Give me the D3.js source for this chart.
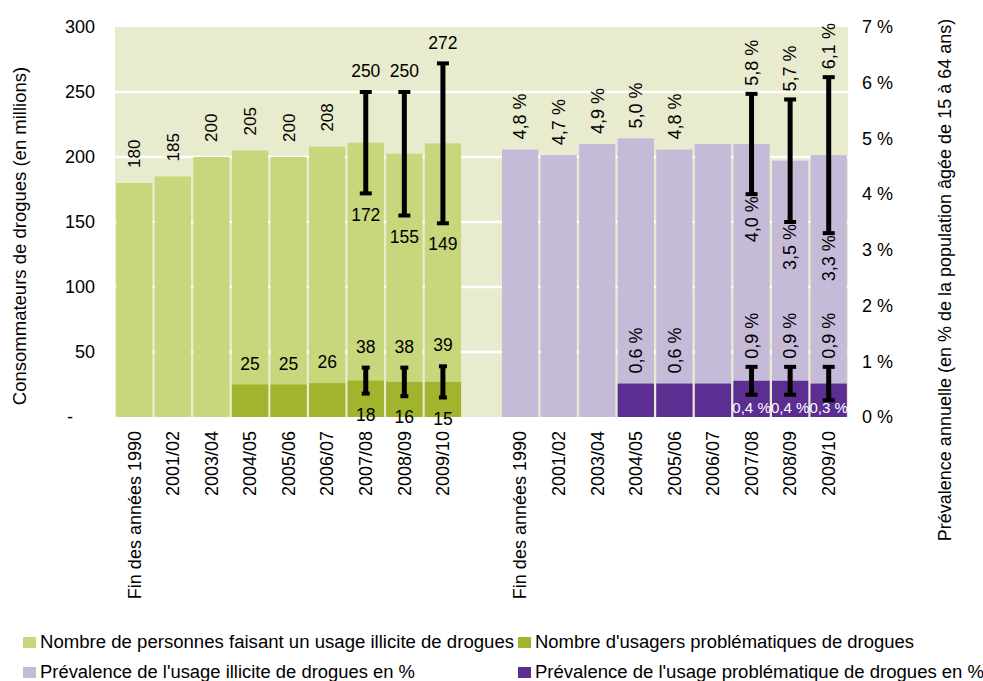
<!DOCTYPE html>
<html>
<head>
<meta charset="utf-8">
<script src="https://cdn.jsdelivr.net/npm/d3@7"></script>
<style>
  body { margin: 0; background: #fff; }
  svg { display: block; font-family: "Liberation Sans", Arial, sans-serif; }
</style>
</head>
<body>
<div id="chart"></div>
<script>
// categories (same on both halves)
var categories = ["Fin des années 1990", "2001/02", "2003/04", "2004/05", "2005/06", "2006/07", "2007/08", "2008/09", "2009/10"];

// left half, millions of users
var users = [180, 185, 200, 205, 200, 208, 211, 202.5, 210.5];
var usersLabel = [180, 185, 200, 205, 200, 208, null, null, null];
var usersLow = [null, null, null, null, null, null, 172, 155, 149];
var usersHigh = [null, null, null, null, null, null, 250, 250, 272];
var problemUsers = [0, 0, 0, 25, 25, 26, 28, 27, 27];
var problemUsersLabel = [null, null, null, 25, 25, 26, null, null, null];
var problemUsersLow = [null, null, null, null, null, null, 18, 16, 15];
var problemUsersHigh = [null, null, null, null, null, null, 38, 38, 39];

// right half, annual prevalence in %
var prevalence = [4.8, 4.7, 4.9, 5.0, 4.8, 4.9, 4.9, 4.6, 4.7];
var prevalenceLabel = [4.8, 4.7, 4.9, 5.0, 4.8, null, null, null, null];
var prevalenceLow = [null, null, null, null, null, null, 4.0, 3.5, 3.3];
var prevalenceHigh = [null, null, null, null, null, null, 5.8, 5.7, 6.1];
var problemPrev = [0, 0, 0, 0.6, 0.6, 0.6, 0.65, 0.65, 0.6];
var problemPrevLabel = [null, null, null, 0.6, 0.6, null, null, null, null];
var problemPrevLow = [null, null, null, null, null, null, 0.4, 0.4, 0.3];
var problemPrevHigh = [null, null, null, null, null, null, 0.9, 0.9, 0.9];

var leftTicks = [0, 50, 100, 150, 200, 250, 300];
var rightTicks = [0, 1, 2, 3, 4, 5, 6, 7];

var legendItems = [
  "Nombre de personnes faisant un usage illicite de drogues",
  "Nombre d'usagers problématiques de drogues",
  "Prévalence de l'usage illicite de drogues en  %",
  "Prévalence de l'usage problématique de drogues en %"
];

var colors = {
  bg: "#e8ebcd",
  lightGreen: "#c8d77c",
  darkGreen: "#a2b42d",
  lightPurple: "#c6bad9",
  darkPurple: "#5c2e91"
};

var W = 983, H = 681;
var plot = { left: 115, right: 848, top: 27, bottom: 417 };

var svg = d3.select("#chart").append("svg")
  .attr("width", W)
  .attr("height", H);

// 9 left slots, one empty slot, 9 right slots
var slots = d3.range(19);
var x = d3.scaleBand()
  .domain(slots)
  .range([plot.left, plot.right])
  .paddingInner(0.06)
  .paddingOuter(0.03);

var yL = d3.scaleLinear().domain([0, 300]).range([plot.bottom, plot.top]);
var yR = d3.scaleLinear().domain([0, 7]).range([plot.bottom, plot.top]);

var fmtPct = function (v) { return v.toFixed(1).replace(".", ",") + " %"; };
var fmtNum = d3.format("d");

// background + grid
svg.append("rect")
  .attr("x", plot.left).attr("y", plot.top)
  .attr("width", plot.right - plot.left).attr("height", plot.bottom - plot.top)
  .attr("fill", colors.bg);

svg.append("g").selectAll("line")
  .data(leftTicks.filter(function (t) { return t > 0 && t < 300; }))
  .enter().append("line")
  .attr("x1", plot.left).attr("x2", plot.right)
  .attr("y1", function (d) { return yL(d); })
  .attr("y2", function (d) { return yL(d); })
  .attr("stroke", "#fff")
  .attr("stroke-width", 2.5);

function half(offset, y, big, small, colBig, colSmall) {
  var g = svg.append("g");
  g.selectAll("rect.big").data(big).enter().append("rect")
    .attr("class", "big")
    .attr("x", function (d, i) { return x(i + offset); })
    .attr("width", x.bandwidth())
    .attr("y", function (d) { return y(d); })
    .attr("height", function (d) { return y(0) - y(d); })
    .attr("fill", colBig);
  g.selectAll("rect.small").data(small).enter().append("rect")
    .attr("class", "small")
    .attr("x", function (d, i) { return x(i + offset); })
    .attr("width", x.bandwidth())
    .attr("y", function (d) { return y(d); })
    .attr("height", function (d) { return y(0) - y(d); })
    .attr("fill", colSmall);
}

half(0, yL, users, problemUsers, colors.lightGreen, colors.darkGreen);
half(10, yR, prevalence, problemPrev, colors.lightPurple, colors.darkPurple);

function cx(i, offset) { return x(i + offset) + x.bandwidth() / 2; }

function errorBars(offset, y, low, high, capW) {
  var g = svg.append("g").attr("stroke", "#000");
  low.forEach(function (lo, i) {
    if (lo == null) return;
    var c = cx(i, offset);
    g.append("line")
      .attr("x1", c).attr("x2", c)
      .attr("y1", y(high[i])).attr("y2", y(lo))
      .attr("stroke-width", 5);
    [lo, high[i]].forEach(function (v) {
      g.append("line")
        .attr("x1", c - capW / 2).attr("x2", c + capW / 2)
        .attr("y1", y(v)).attr("y2", y(v))
        .attr("stroke-width", 4);
    });
  });
}

errorBars(0, yL, usersLow, usersHigh, 12);
errorBars(0, yL, problemUsersLow, problemUsersHigh, 8);
errorBars(10, yR, prevalenceLow, prevalenceHigh, 12);
errorBars(10, yR, problemPrevLow, problemPrevHigh, 12);

// labels
var labels = svg.append("g").attr("font-size", 17.5).attr("fill", "#000");

// horizontal labels
function hLabels(offset, y, vals, off, fmt) {
  vals.forEach(function (v, i) {
    if (v == null) return;
    labels.append("text")
      .attr("x", cx(i, offset))
      .attr("y", y(v) + off)
      .attr("dy", "0.35em")
      .attr("text-anchor", "middle")
      .text(fmt(v));
  });
}

// rotated labels, above (anchor start) or below (anchor end)
function vLabels(offset, y, vals, off, anchor, fmt, size) {
  vals.forEach(function (v, i) {
    if (v == null) return;
    labels.append("text")
      .attr("transform", "translate(" + cx(i, offset) + "," + (y(v) + off) + ") rotate(-90)")
      .attr("dy", "0.35em")
      .attr("text-anchor", anchor)
      .attr("font-size", size)
      .text(fmt(v));
  });
}

vLabels(0, yL, usersLabel, -15, "start", fmtNum, 17);
hLabels(0, yL, usersHigh, -21, fmtNum);
hLabels(0, yL, usersLow, 21, fmtNum);
hLabels(0, yL, problemUsersLabel, -21, fmtNum);
hLabels(0, yL, problemUsersHigh, -21, fmtNum);
hLabels(0, yL, problemUsersLow, 21, fmtNum);

vLabels(10, yR, prevalenceLabel, -10, "start", fmtPct, 18);
vLabels(10, yR, prevalenceHigh, -8, "start", fmtPct, 18);
vLabels(10, yR, prevalenceLow, 2, "end", fmtPct, 18);
vLabels(10, yR, problemPrevLabel, -10, "start", fmtPct, 18);
vLabels(10, yR, problemPrevHigh, -8, "start", fmtPct, 18);
problemPrevLow.forEach(function (v, i) {
  if (v == null) return;
  labels.append("text")
    .attr("x", cx(i, 10))
    .attr("y", 408)
    .attr("dy", "0.35em")
    .attr("text-anchor", "middle")
    .attr("fill", "#fff")
    .attr("font-size", 15)
    .text(fmtPct(v));
});

// category labels
var catG = svg.append("g").attr("font-size", 18);
[0, 10].forEach(function (offset) {
  categories.forEach(function (c, i) {
    catG.append("text")
      .attr("transform", "translate(" + cx(i, offset) + ",431) rotate(-90)")
      .attr("dy", "0.35em")
      .attr("text-anchor", "end")
      .text(c);
  });
});

// axes
var axL = svg.append("g")
  .attr("transform", "translate(" + plot.left + ",0)")
  .call(d3.axisLeft(yL).tickValues(leftTicks).tickSize(0).tickPadding(20)
    .tickFormat(function (d) { return d === 0 ? "-" : fmtNum(d); }));
var axR = svg.append("g")
  .attr("transform", "translate(" + plot.right + ",0)")
  .call(d3.axisRight(yR).tickValues(rightTicks).tickSize(0).tickPadding(14)
    .tickFormat(function (d) { return d + " %"; }));
[axL, axR].forEach(function (a) {
  a.select(".domain").remove();
  a.selectAll("text").attr("font-size", 18).attr("fill", "#000")
    .attr("font-family", "\"Liberation Sans\", Arial, sans-serif");
});
axL.selectAll(".tick").filter(function (d) { return d === 0; })
  .select("text").attr("dx", -22);

// axis titles
svg.append("text")
  .attr("transform", "translate(20,236) rotate(-90)")
  .attr("dy", "0.35em")
  .attr("text-anchor", "middle")
  .attr("font-size", 18.5)
  .text("Consommateurs de drogues (en millions)");
svg.append("text")
  .attr("transform", "translate(945,280) rotate(-90)")
  .attr("dy", "0.35em")
  .attr("text-anchor", "middle")
  .attr("font-size", 18)
  .text("Prévalence annuelle (en % de la population âgée de 15 à 64 ans)");

// legend
var legendPos = [
  { x: 23, y: 648, w: 474, c: colors.lightGreen },
  { x: 518, y: 648, w: 379, c: colors.darkGreen },
  { x: 23, y: 678, w: 375, c: colors.lightPurple },
  { x: 518, y: 678, w: 449, c: colors.darkPurple }
];
var leg = svg.append("g");
legendItems.forEach(function (t, i) {
  var p = legendPos[i];
  leg.append("rect")
    .attr("x", p.x).attr("y", p.y - 11)
    .attr("width", 13).attr("height", 11)
    .attr("fill", p.c);
  leg.append("text")
    .attr("x", p.x + 17).attr("y", p.y)
    .attr("font-size", 18)
    .attr("textLength", p.w)
    .attr("lengthAdjust", "spacingAndGlyphs")
    .text(t);
});
</script>
</body>
</html>
